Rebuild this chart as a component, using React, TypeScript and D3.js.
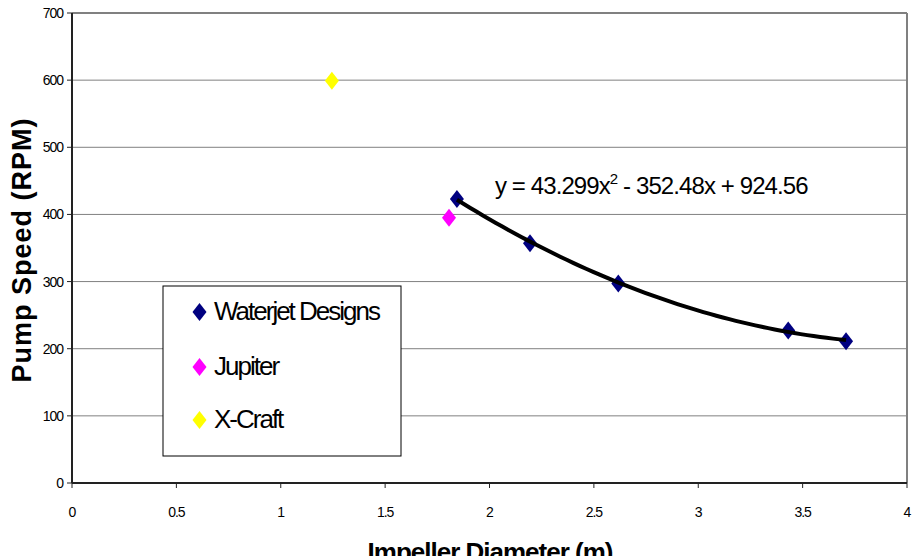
import React from "react";
import * as d3 from "d3";

const waterjetX = [1.844, 2.194, 2.617, 3.431, 3.708];
const waterjetY = [423, 357, 297, 227, 211];
const jupiterX = [1.806];
const jupiterY = [395];
const xcraftX = [1.245];
const xcraftY = [599];
const trendCoef = [43.299, -352.48, 924.56];
const xTicks = [0, 0.5, 1, 1.5, 2, 2.5, 3, 3.5, 4];
const yTicks = [0, 100, 200, 300, 400, 500, 600, 700];
const seriesNames = ["Waterjet Designs", "Jupiter", "X-Craft"];
const seriesColors = ["#000080", "#FF00FF", "#FFFF00"];

const W = 912;
const H = 556;
const FONT = "Arial, 'Liberation Sans', sans-serif";

function diamond(cx: number, cy: number, hw = 7, hh = 9) {
  return `M${cx},${cy - hh}L${cx + hw},${cy}L${cx},${cy + hh}L${cx - hw},${cy}Z`;
}

export default function App() {
  const x = d3.scaleLinear().domain([0, 4]).range([72, 907]);
  const y = d3.scaleLinear().domain([0, 700]).range([483, 13]);

  const x0 = d3.min(waterjetX) as number;
  const x1 = d3.max(waterjetX) as number;
  const samples = d3.range(0, 61).map((i) => x0 + ((x1 - x0) * i) / 60);
  const trend = samples.map((v) => [v, trendCoef[0] * v * v + trendCoef[1] * v + trendCoef[2]] as [number, number]);
  const line = d3
    .line<[number, number]>()
    .x((d) => x(d[0]))
    .y((d) => y(d[1]));

  const series = [
    { xs: waterjetX, ys: waterjetY },
    { xs: jupiterX, ys: jupiterY },
    { xs: xcraftX, ys: xcraftY },
  ];

  const legendY = [312, 367, 420];

  return (
    <svg
      width={W}
      height={H}
      style={{ position: "absolute", left: 0, top: 0, background: "#fff" }}
      fontFamily={FONT}
    >
      <rect x={0} y={0} width={W} height={H} fill="#fff" />
      {yTicks.slice(1, -1).map((t) => (
        <line key={t} x1={x(0)} x2={x(4)} y1={y(t)} y2={y(t)} stroke="#808080" strokeWidth={1} />
      ))}
      <line x1={x(0)} x2={x(4)} y1={y(700)} y2={y(700)} stroke="#808080" strokeWidth={2} />
      <line x1={x(4)} x2={x(4)} y1={y(700)} y2={y(0)} stroke="#808080" strokeWidth={2} />
      <line x1={x(0)} x2={x(0)} y1={y(700)} y2={y(0)} stroke="#222" strokeWidth={2} />
      <line x1={x(0)} x2={x(4)} y1={y(0)} y2={y(0)} stroke="#222" strokeWidth={2} />
      {yTicks.map((t) => (
        <g key={t}>
          <line x1={x(0) - 5} x2={x(0)} y1={y(t)} y2={y(t)} stroke="#222" strokeWidth={1} />
          <text x={63} y={y(t) + 5} textAnchor="end" fontSize={14} letterSpacing={-1} fill="#000">
            {t}
          </text>
        </g>
      ))}
      {xTicks.map((t) => (
        <g key={t}>
          <line x1={x(t)} x2={x(t)} y1={y(0)} y2={y(0) + 5} stroke="#222" strokeWidth={1} />
          <text x={x(t)} y={517} textAnchor="middle" fontSize={14} letterSpacing={-1} fill="#000">
            {String(t)}
          </text>
        </g>
      ))}
      {series.map((s, si) =>
        s.xs.map((xv, i) => (
          <path key={`${si}-${i}`} d={diamond(x(xv), y(s.ys[i]))} fill={seriesColors[si]} />
        ))
      )}
      <path d={line(trend) || ""} fill="none" stroke="#000" strokeWidth={4} strokeLinejoin="round" />
      <text x={495} y={194} fontSize={24} letterSpacing={-0.9} fill="#000">
        y = 43.299x
        <tspan dy={-10} fontSize={15}>2</tspan>
        <tspan dy={10}> - 352.48x + 924.56</tspan>
      </text>
      <rect x={163} y={286} width={238} height={170} fill="#fff" stroke="#000" strokeWidth={1} />
      {seriesNames.map((n, i) => (
        <g key={n}>
          <path d={diamond(199.5, legendY[i])} fill={seriesColors[i]} />
          <text x={214} y={legendY[i] + 8} fontSize={26} letterSpacing={-2} fill="#000">
            {n}
          </text>
        </g>
      ))}
      <text
        transform={`translate(31,250) rotate(-90)`}
        textAnchor="middle"
        fontSize={27}
        fontWeight="bold"
        letterSpacing={1}
        fill="#000"
      >
        Pump Speed (RPM)
      </text>
      <text x={490} y={561} textAnchor="middle" fontSize={26} fontWeight="bold" letterSpacing={-1} fill="#000">
        Impeller Diameter (m)
      </text>
    </svg>
  );
}
